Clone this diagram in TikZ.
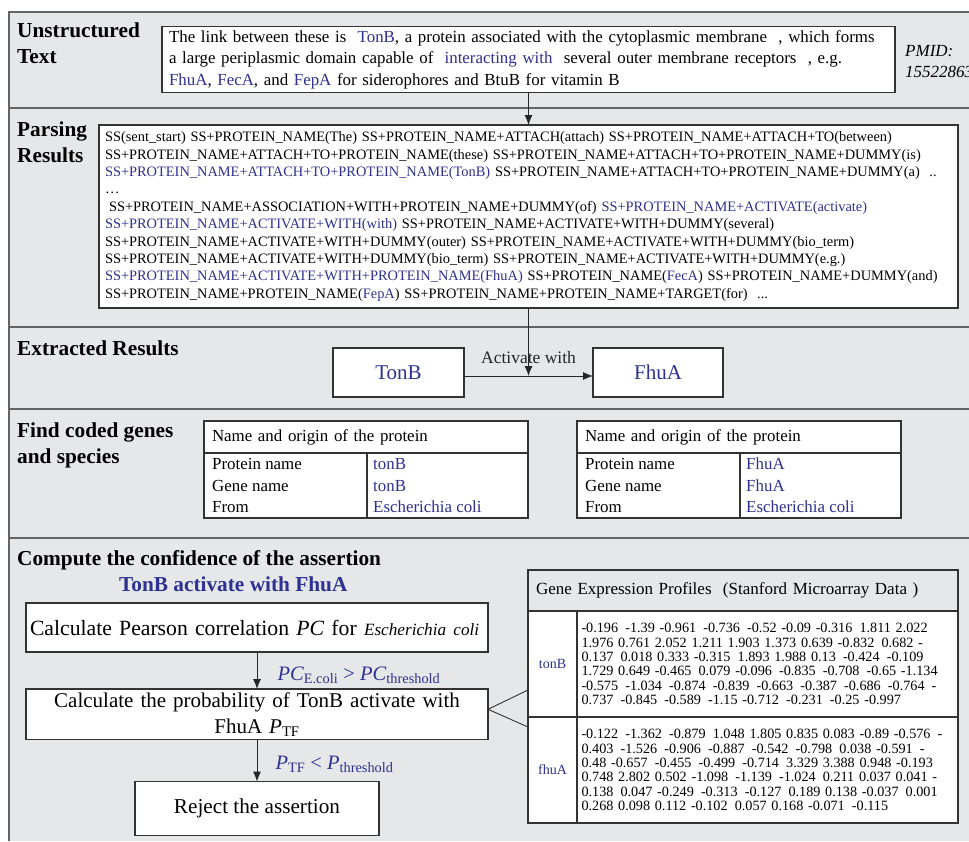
\documentclass[tikz,border=0pt]{standalone}
\usepackage{fontspec}
\setmainfont{Liberation Serif}
\usetikzlibrary{arrows.meta, positioning, calc}
\definecolor{protblue}{RGB}{46,49,146}
\definecolor{panelgrey}{RGB}{230,231,233}
\definecolor{framegrey}{RGB}{100,100,100}
\newcommand{\pn}{PROTEIN\_NAME}
\newcommand{\hl}[1]{\textcolor{protblue}{#1}}

\begin{document}
\begin{tikzpicture}[x=1pt, y=-1pt,
        head/.style={anchor=base west, inner sep=0pt, align=left,
                     font=\fontsize{21.3}{26}\selectfont\bfseries},
        box/.style={draw=black!80, fill=white, line width=1.1pt,
                    outer sep=0pt},
        arr/.style={-{Latex[length=10pt, width=8pt]}, line width=1pt,
                    black!85},
        frame/.style={draw=framegrey, line width=1.8pt},
        cell/.style={anchor=base west, inner sep=0pt,
                     font=\fontsize{16.9}{21}\selectfont},
        cond/.style={anchor=base west, inner sep=0pt, text=protblue,
                     font=\fontsize{20.5}{24}\selectfont},
        numbers/.style={box, align=left, inner xsep=4.5pt,
                        font=\fontsize{14.2}{14.4}\selectfont}
      ]
      \useasboundingbox (0,0) rectangle (969,841);
      % panels
      \fill[panelgrey] (9,12) rectangle (969,841);
      \draw[frame] (969,12) -- (9,12) -- (9,841);
      \foreach \y in {108,327,409,538}
        \draw[frame] (9,\y) -- (969,\y);

      % unstructured text
      \node[head] (hText) at (17,63) {Unstructured\\Text};
      \node[box, minimum width=733pt, minimum height=65pt, text width=719pt,
            inner xsep=7pt, align=left,
            font=\fontsize{16.9}{21.5}\selectfont] (txt) at (528.5,59.5)
        {The link between these is~ \hl{TonB}, a protein associated with the cytoplasmic membrane~ , which forms\\
         a large periplasmic domain capable of~ \hl{interacting with}~ several outer membrane receptors~ , e.g.\\
         \hl{FhuA}, \hl{FecA}, and \hl{FepA} for siderophores and BtuB for vitamin B};
      \node[anchor=base west, inner sep=0pt, align=left,
            font=\fontsize{17}{21}\selectfont\itshape] (pmid) at (905,77)
        {PMID:\\15522863};

      % parsing results
      \node[head] (hParse) at (17,162) {Parsing\\Results};
      \node[box, minimum width=859pt, minimum height=183pt, text width=847pt,
            inner xsep=6pt, align=left,
            font=\fontsize{14.4}{17.4}\selectfont] (parse) at (528.5,216.5)
        {SS(sent\_start) SS+\pn(The) SS+\pn+ATTACH(attach) SS+\pn+ATTACH+TO(between)\\
         SS+\pn+ATTACH+TO+\pn(these) SS+\pn+ATTACH+TO+\pn+DUMMY(is)\\
         \hl{SS+\pn+ATTACH+TO+\pn(TonB)} SS+\pn+ATTACH+TO+\pn+DUMMY(a)~ ..\\
         …\\
         \hspace*{4pt}SS+\pn+ASSOCIATION+WITH+\pn+DUMMY(of) \hl{SS+\pn+ACTIVATE(activate)}\\
         \hl{SS+\pn+ACTIVATE+WITH(with)} SS+\pn+ACTIVATE+WITH+DUMMY(several)\\
         SS+\pn+ACTIVATE+WITH+DUMMY(outer) SS+\pn+ACTIVATE+WITH+DUMMY(bio\_term)\\
         SS+\pn+ACTIVATE+WITH+DUMMY(bio\_term) SS+\pn+ACTIVATE+WITH+DUMMY(e.g.)\\
         \hl{SS+\pn+ACTIVATE+WITH+\pn(FhuA)} SS+\pn(\hl{FecA}) SS+\pn+DUMMY(and)\\
         SS+\pn+\pn(\hl{FepA}) SS+\pn+\pn+TARGET(for)~ ...};
      \draw[arr] (txt.south) -- (parse.north);

      % extracted results
      \node[head] (hExtr) at (17,355) {Extracted Results};
      \node[box, minimum width=131pt, minimum height=49pt, text=protblue,
            font=\fontsize{21}{24}\selectfont] (tonB) at (398.5,372.5) {TonB};
      \node[box, minimum width=130pt, minimum height=49pt, text=protblue,
            font=\fontsize{21}{24}\selectfont, right=129pt of tonB] (fhuA) {FhuA};
      \coordinate (act) at ($(tonB.east)!0.5!(fhuA.west)+(0,3.5)$);
      \draw[arr] (tonB.east |- act) -- (fhuA.west |- act)
        node[midway, above=13pt, inner sep=0pt, anchor=base,
             font=\fontsize{17.5}{20}\selectfont] {Activate with};
      \draw[arr] (parse.south) -- (act);

      % coded genes and species
      \node[head] (hGenes) at (17,463) {Find coded genes\\and species};
      \node[box, anchor=north west, minimum width=324pt, minimum height=32pt,
            text width=308pt, inner xsep=8pt, align=left,
            font=\fontsize{16.9}{21}\selectfont] (tab1head) at (204,421)
        {Name and origin of the protein};
      \node[box, anchor=north, minimum width=324pt, minimum height=65pt]
        (tab1body) at (tab1head.south) {};
      \draw[line width=1.1pt, black!80] ($(tab1body.north west)+(163,0)$)
        -- ($(tab1body.south west)+(163,0)$);
      \foreach \lab/\val [count=\i] in {Protein name/tonB, Gene name/tonB,
                                        From/Escherichia coli} {
        \node[cell] (t1l\i) at ($(tab1body.north west)+(8,-5+21.5*\i)$) {\lab};
        \node[cell, text=protblue] (t1v\i) at ($(tab1body.north west)+(169,-5+21.5*\i)$) {\val};
      }
      \node[box, anchor=north west, minimum width=324pt, minimum height=32pt,
            text width=308pt, inner xsep=8pt, align=left,
            font=\fontsize{16.9}{21}\selectfont] (tab2head) at (577,421)
        {Name and origin of the protein};
      \node[box, anchor=north, minimum width=324pt, minimum height=65pt]
        (tab2body) at (tab2head.south) {};
      \draw[line width=1.1pt, black!80] ($(tab2body.north west)+(163,0)$)
        -- ($(tab2body.south west)+(163,0)$);
      \foreach \lab/\val [count=\i] in {Protein name/FhuA, Gene name/FhuA,
                                        From/Escherichia coli} {
        \node[cell] (t2l\i) at ($(tab2body.north west)+(8,-5+21.5*\i)$) {\lab};
        \node[cell, text=protblue] (t2v\i) at ($(tab2body.north west)+(169,-5+21.5*\i)$) {\val};
      }

      % confidence of the assertion
      \node[head] (hComp) at (17,565) {Compute the confidence of the assertion};
      \node[head, text=protblue] (hAssert) at (119,591) {TonB activate with FhuA};
      \node[box, minimum width=462pt, minimum height=49pt, text width=454pt,
            inner xsep=4pt, align=left,
            font=\fontsize{21.7}{26}\selectfont] (pearson) at (257,627.5)
        {Calculate Pearson correlation \textit{PC} for
         {\fontsize{17.2}{20}\selectfont\itshape Escherichia coli}};
      \node[box, minimum width=462pt, minimum height=48pt, text width=450pt,
            align=center, font=\fontsize{21}{26}\selectfont,
            below=37pt of pearson] (prob)
        {Calculate the probability of TonB activate with\\
         FhuA \textit{P}\textsubscript{TF}};
      \node[box, minimum width=244pt, minimum height=54pt,
            font=\fontsize{21.2}{26}\selectfont, below=42pt of prob] (reject)
        {Reject the assertion};
      \draw[arr] (pearson) -- (prob)
        node[cond, pos=0.76, xshift=20pt]
        {\textit{PC}\textsubscript{E.coli} > \textit{PC}\textsubscript{threshold}};
      \draw[arr] (prob) -- (reject)
        node[cond, pos=0.71, xshift=18pt]
        {\textit{P}\textsubscript{TF} < \textit{P}\textsubscript{threshold}};

      % gene expression profiles
      \node[draw=black!80, line width=1.1pt, outer sep=0pt, anchor=north west,
            minimum width=430pt, minimum height=41pt, text width=414pt,
            inner xsep=8pt, align=left,
            font=\fontsize{17}{21}\selectfont] (gHead) at (528,570)
        {Gene Expression Profiles~ (Stanford Microarray Data )};
      \node[box, anchor=north west, minimum width=49pt, minimum height=106pt,
            text=protblue, font=\fontsize{14}{16}\selectfont] (gTon) at (528,611) {tonB};
      \node[numbers, anchor=north west, minimum width=381pt, minimum height=106pt,
            text width=372pt] (gTonVal) at (gTon.north east)
        {-0.196\, -1.39 -0.961\, -0.736\, -0.52 -0.09 -0.316\, 1.811 2.022\\
         1.976 0.761 2.052 1.211 1.903 1.373 0.639 -0.832\, 0.682 -\\
         0.137\, 0.018 0.333 -0.315\, 1.893 1.988 0.13\, -0.424\, -0.109\\
         1.729 0.649 -0.465\, 0.079 -0.096\, -0.835\, -0.708\, -0.65 -1.134\\
         -0.575\, -1.034\, -0.874\, -0.839\, -0.663\, -0.387\, -0.686\, -0.764\, -\\
         0.737\, -0.845\, -0.589\, -1.15 -0.712\, -0.231\, -0.25 -0.997};
      \node[box, anchor=north west, minimum width=49pt, minimum height=106pt,
            text=protblue, font=\fontsize{14}{16}\selectfont] (gFhu) at (gTon.south west) {fhuA};
      \node[numbers, anchor=north west, minimum width=381pt, minimum height=106pt,
            text width=372pt] (gFhuVal) at (gFhu.north east)
        {-0.122\, -1.362\, -0.879\, 1.048 1.805 0.835 0.083 -0.89 -0.576\, -\\
         0.403\, -1.526\, -0.906\, -0.887\, -0.542\, -0.798\, 0.038 -0.591\, -\\
         0.48 -0.657\, -0.455\, -0.499\, -0.714\, 3.329 3.388 0.948 -0.193\\
         0.748 2.802 0.502 -1.098\, -1.139\, -1.024\, 0.211 0.037 0.041 -\\
         0.138\, 0.047 -0.249\, -0.313\, -0.127\, 0.189 0.138 -0.037\, 0.001\\
         0.268 0.098 0.112 -0.102\, 0.057 0.168 -0.071\, -0.115};
      \coordinate (tip) at ($(prob.east)+(0,-5)$);
      \draw[line width=0.9pt, black!80] ($(gTon.north west)+(0,79)$) -- (tip)
        -- ($(gFhu.north west)+(0,10)$);
    \end{tikzpicture}
\end{document}
